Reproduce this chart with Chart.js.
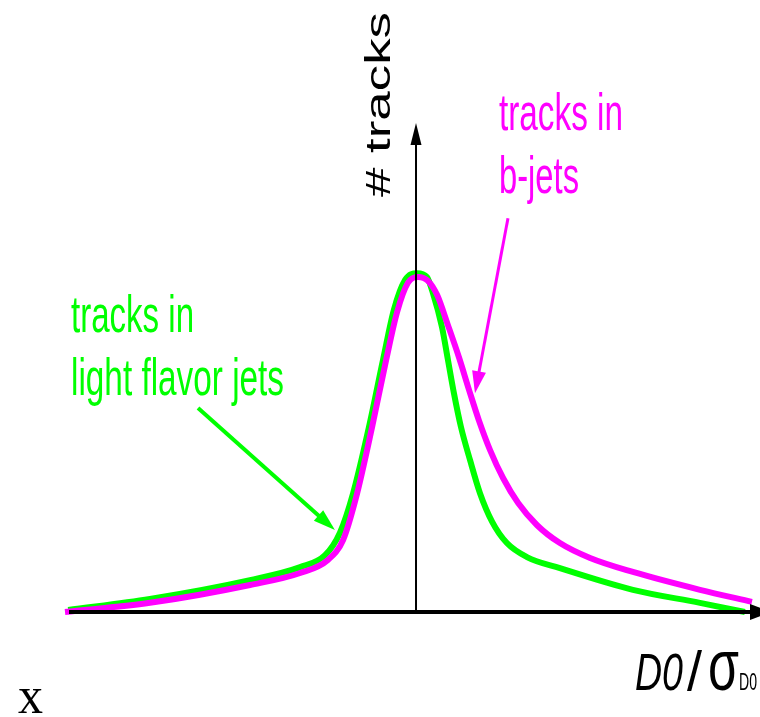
<!DOCTYPE html>
<html>
<head>
<meta charset="utf-8">
<script src="https://cdn.jsdelivr.net/npm/chart.js@4/dist/chart.umd.min.js"></script>
<style>
  html, body { margin: 0; padding: 0; background: #ffffff; }
  #wrap { width: 760px; height: 717px; }
</style>
</head>
<body>
<div id="wrap"><canvas id="c" width="760" height="717"></canvas></div>
<script>
// Impact-parameter significance distributions (schematic, arbitrary units)
const lightX = [-9.91, -7.58, -4.73, -3.30, -2.59, -2.17, -1.79, -1.34, -0.94, -0.63, -0.31, 0.03,
                 0.31, 0.48, 0.74, 0.91, 1.08, 1.28, 1.54, 1.82, 2.17, 2.59, 3.16, 4.10,
                 6.18, 8.09, 9.37];
const lightY = [0.4, 2.7, 6.6, 9.3, 11.8, 16.4, 24.7, 38.4, 52.3, 62.7, 68.9, 70.3,
                69.5, 66.2, 59.1, 52.3, 45.4, 38.4, 31.5, 24.7, 18.7, 14.3, 11.4, 9.1,
                4.6, 1.9, 0.0];

const bX = [-10.0, -7.58, -4.73, -3.30, -2.51, -2.08, -1.71, -1.25, -0.85, -0.54, -0.23, 0.06,
             0.34, 0.60, 0.91, 1.23, 1.51, 1.79, 2.11, 2.48, 2.91, 3.45, 4.10, 4.96,
             6.18, 8.09, 9.57];
const bY = [0.0, 1.9, 5.6, 8.1, 10.8, 14.9, 23.7, 38.4, 52.3, 62.2, 68.3, 69.5,
            68.7, 65.8, 59.5, 52.7, 46.1, 39.8, 33.6, 27.8, 22.6, 18.0, 14.3, 11.2,
            8.3, 4.6, 2.1];

const lightLabel = ["tracks in", "light flavor jets"];
const bLabel = ["tracks in", "b-jets"];
const yTitle = "# tracks";

const GREEN = "#00ff00";
const MAGENTA = "#ff00ff";

const toPoints = (xs, ys) => xs.map((x, i) => ({ x: x, y: ys[i] }));

function arrowHead(ctx, tx, ty, angle, len, half, color) {
  ctx.save();
  ctx.translate(tx, ty);
  ctx.rotate(angle);
  ctx.fillStyle = color;
  ctx.beginPath();
  ctx.moveTo(0, 0);
  ctx.lineTo(-len, -half);
  ctx.lineTo(-len, half);
  ctx.closePath();
  ctx.fill();
  ctx.restore();
}

// Draw text squeezed/stretched horizontally so it spans a given width
function fitText(ctx, text, font, color, x, y, width, rot) {
  ctx.save();
  ctx.font = font;
  ctx.fillStyle = color;
  ctx.textBaseline = "alphabetic";
  ctx.textAlign = "left";
  const w = ctx.measureText(text).width;
  ctx.translate(x, y);
  if (rot) ctx.rotate(rot);
  ctx.scale(width / w, 1);
  ctx.fillText(text, 0, 0);
  ctx.restore();
}

const sketch = {
  id: "sketch",
  afterDatasetsDraw(chart, args, opts) {
    const ctx = chart.ctx;
    const xs = chart.scales.x, ys = chart.scales.y;
    const x0 = xs.getPixelForValue(0), y0 = ys.getPixelForValue(0);

    // axes with arrowheads
    ctx.save();
    ctx.strokeStyle = "#000";
    ctx.lineWidth = 4;
    ctx.beginPath();
    ctx.moveTo(xs.left + 4, y0);
    ctx.lineTo(xs.right - 8, y0);
    ctx.stroke();
    arrowHead(ctx, xs.right + 12, y0, 0, 22, 8, "#000");

    ctx.lineWidth = 2;
    ctx.beginPath();
    ctx.moveTo(x0, y0);
    ctx.lineTo(x0, ys.top + 10);
    ctx.stroke();
    arrowHead(ctx, x0, ys.top - 7, -Math.PI / 2, 22, 5.5, "#000");
    ctx.restore();

    // annotation arrows (data coordinates)
    for (const a of opts.arrows) {
      const fx = xs.getPixelForValue(a.from[0]), fy = ys.getPixelForValue(a.from[1]);
      const tx = xs.getPixelForValue(a.to[0]), ty = ys.getPixelForValue(a.to[1]);
      const ang = Math.atan2(ty - fy, tx - fx);
      ctx.save();
      ctx.strokeStyle = a.color;
      ctx.lineWidth = a.width;
      ctx.beginPath();
      ctx.moveTo(fx, fy);
      ctx.lineTo(tx - Math.cos(ang) * 16, ty - Math.sin(ang) * 16);
      ctx.stroke();
      arrowHead(ctx, tx, ty, ang, 22, 7, a.color);
      ctx.restore();
    }

    // labels
    const sans = "'Liberation Sans', Arial, sans-serif";
    fitText(ctx, lightLabel[0], "52px " + sans, GREEN, 71, 332, 123);
    fitText(ctx, lightLabel[1], "52px " + sans, GREEN, 71, 395, 213);
    fitText(ctx, bLabel[0], "52px " + sans, MAGENTA, 499, 130, 124);
    fitText(ctx, bLabel[1], "52px " + sans, MAGENTA, 499, 193, 80);

    fitText(ctx, yTitle, "35px " + sans, "#000", 390, 197, 185, -Math.PI / 2);

    fitText(ctx, "D0", "italic 52px " + sans, "#000", 635, 690, 48);
    fitText(ctx, "/", "55px " + sans, "#000", 687, 690, 15);
    fitText(ctx, "σ", "72px " + sans, "#000", 708, 690, 31);
    fitText(ctx, "D0", "24px " + sans, "#000", 739, 690, 18);

    fitText(ctx, "x", "52px 'Liberation Serif', 'Times New Roman', serif", "#000", 18, 713, 25);
  }
};

new Chart(document.getElementById("c"), {
  type: "line",
  data: {
    datasets: [
      {
        label: "tracks in b-jets",
        data: toPoints(bX, bY),
        borderColor: MAGENTA,
        borderWidth: 6,
        pointRadius: 0,
        cubicInterpolationMode: "monotone",
        fill: false,
        clip: false
      },
      {
        label: "tracks in light flavor jets",
        data: toPoints(lightX, lightY),
        borderColor: GREEN,
        borderWidth: 6,
        pointRadius: 0,
        cubicInterpolationMode: "monotone",
        fill: false,
        clip: false
      }
    ]
  },
  options: {
    responsive: false,
    animation: false,
    devicePixelRatio: 1,
    layout: { padding: { left: 65, right: 0, top: 130, bottom: 105 } },
    scales: {
      x: { type: "linear", min: -10, max: 9.8, display: false },
      y: { type: "linear", min: 0, max: 100, display: false }
    },
    plugins: {
      legend: { display: false },
      tooltip: { enabled: false },
      sketch: {
        arrows: [
          { from: [2.62, 81.7], to: [1.68, 45.4], color: MAGENTA, width: 3 },
          { from: [-6.21, 42.3], to: [-2.31, 17.0], color: GREEN, width: 4 }
        ]
      }
    }
  },
  plugins: [sketch]
});
</script>
</body>
</html>
